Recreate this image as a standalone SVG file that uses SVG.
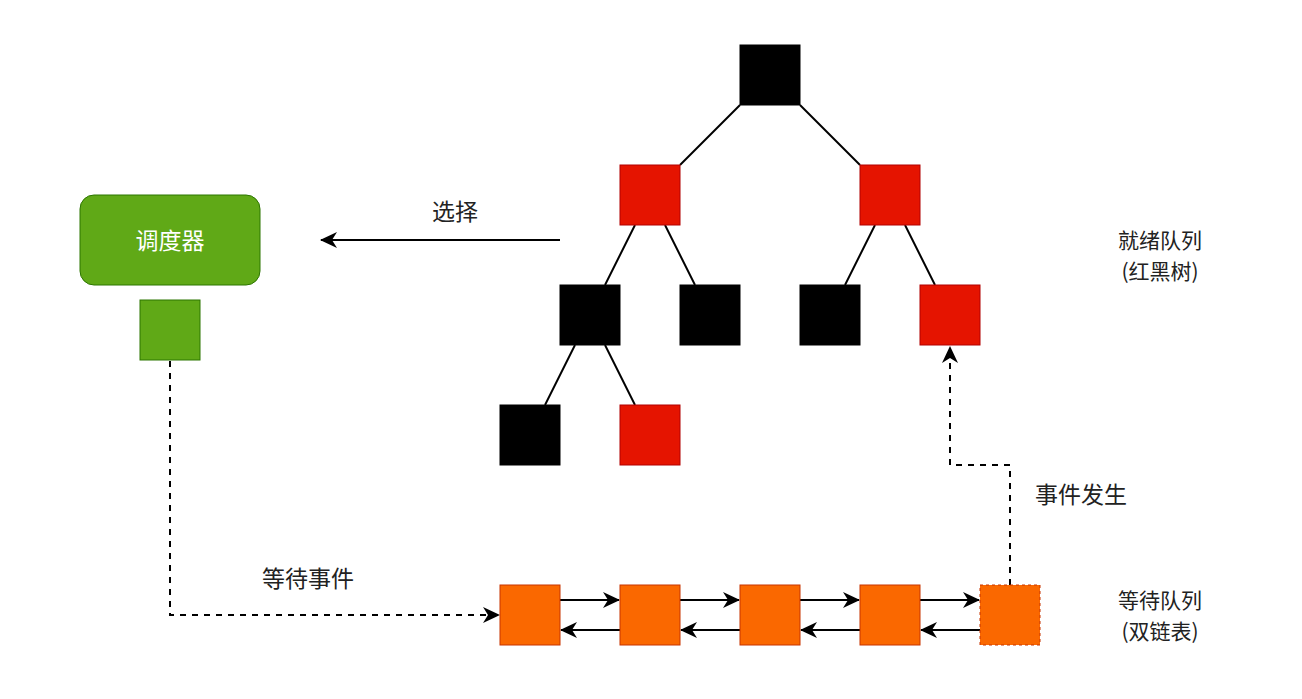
<svg xmlns="http://www.w3.org/2000/svg" width="1302" height="699" viewBox="0 0 1302 699">
<defs>
<style>
.blk{fill:#000000;stroke:#000000;stroke-width:1}
.red{fill:#e51400;stroke:#b20000;stroke-width:1}
.grn{fill:#60a917;stroke:#2d7600;stroke-width:1}
.org{fill:#fa6800;stroke:#c73500;stroke-width:1}
.edge{stroke:#000;stroke-width:2;fill:none}
.dash{stroke:#000;stroke-width:2;fill:none;stroke-dasharray:6 6}
.lbl{font-family:"Noto Sans CJK SC","Noto Sans",sans-serif;font-size:23px;fill:#222222;text-anchor:middle}
.side{font-size:21px}
</style>
<marker id="arr" markerUnits="userSpaceOnUse" markerWidth="17" markerHeight="16" viewBox="0 0 17 16" refX="16" refY="8" orient="auto">
<path d="M0,0 L17,8 L0,16 L5,8 Z" fill="#000"/>
</marker>
</defs>
<rect width="1302" height="699" fill="#ffffff"/>
<g id="connectors">
<line class="edge" x1="740" y1="105" x2="680" y2="165"/>
<line class="edge" x1="800" y1="105" x2="860" y2="165"/>
<line class="edge" x1="635" y1="225" x2="605" y2="285"/>
<line class="edge" x1="665" y1="225" x2="695" y2="285"/>
<line class="edge" x1="875" y1="225" x2="845" y2="285"/>
<line class="edge" x1="905" y1="225" x2="935" y2="285"/>
<line class="edge" x1="575" y1="345" x2="545" y2="405"/>
<line class="edge" x1="605" y1="345" x2="635" y2="405"/>
<line class="edge" x1="560" y1="240" x2="321" y2="240" marker-end="url(#arr)"/>
<path class="dash" d="M170,361 L170,615 L499,615" marker-end="url(#arr)"/>
<path class="dash" d="M1010,585 L1010,465 L950,465 L950,347" marker-end="url(#arr)"/>
<line class="edge" x1="560" y1="600" x2="619" y2="600" marker-end="url(#arr)"/>
<line class="edge" x1="680" y1="600" x2="739" y2="600" marker-end="url(#arr)"/>
<line class="edge" x1="800" y1="600" x2="859" y2="600" marker-end="url(#arr)"/>
<line class="edge" x1="920" y1="600" x2="979" y2="600" marker-end="url(#arr)"/>
<line class="edge" x1="620" y1="630" x2="561" y2="630" marker-end="url(#arr)"/>
<line class="edge" x1="740" y1="630" x2="681" y2="630" marker-end="url(#arr)"/>
<line class="edge" x1="860" y1="630" x2="801" y2="630" marker-end="url(#arr)"/>
<line class="edge" x1="980" y1="630" x2="921" y2="630" marker-end="url(#arr)"/>
</g>
<g id="root"><rect class="blk" x="740" y="45" width="60" height="60"/></g>
<g id="n-l2a"><rect class="red" x="620" y="165" width="60" height="60"/></g>
<g id="n-l2b"><rect class="red" x="860" y="165" width="60" height="60"/></g>
<g id="n-l3a"><rect class="blk" x="560" y="285" width="60" height="60"/></g>
<g id="n-l3b"><rect class="blk" x="680" y="285" width="60" height="60"/></g>
<g id="n-l3c"><rect class="blk" x="800" y="285" width="60" height="60"/></g>
<g id="n-l3d"><rect class="red" x="920" y="285" width="60" height="60"/></g>
<g id="n-l4a"><rect class="blk" x="500" y="405" width="60" height="60"/></g>
<g id="n-l4b"><rect class="red" x="620" y="405" width="60" height="60"/></g>
<g id="scheduler"><rect class="grn" x="80" y="195" width="180" height="90" rx="14" ry="14"/><text class="lbl" x="170" y="249" style="fill:#ffffff">调度器</text></g>
<g id="task"><rect class="grn" x="140" y="300" width="60" height="60"/></g>
<g id="q1"><rect class="org" x="500" y="585" width="60" height="60"/></g>
<g id="q2"><rect class="org" x="620" y="585" width="60" height="60"/></g>
<g id="q3"><rect class="org" x="740" y="585" width="60" height="60"/></g>
<g id="q4"><rect class="org" x="860" y="585" width="60" height="60"/></g>
<g id="q5"><rect class="org" x="980" y="585" width="60" height="60" stroke-dasharray="3 3"/></g>
<g id="labels">
<text class="lbl" x="455" y="220">选择</text>
<text class="lbl" x="308" y="587">等待事件</text>
<text class="lbl" x="1081" y="503">事件发生</text>
<text class="lbl side" x="1160" y="248">就绪队列</text>
<text class="lbl side" x="1160" y="279">(红黑树)</text>
<text class="lbl side" x="1160" y="608">等待队列</text>
<text class="lbl side" x="1160" y="639">(双链表)</text>
</g>
</svg>
